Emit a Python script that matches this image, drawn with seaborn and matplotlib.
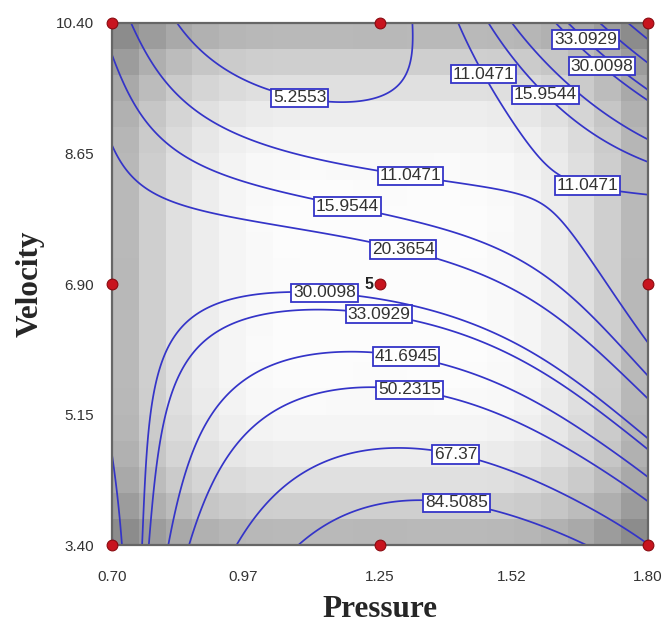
import numpy as np
import pandas as pd
import matplotlib
matplotlib.use("Agg")
import matplotlib.pyplot as plt
from matplotlib.colors import LinearSegmentedColormap
import seaborn as sns

# axis ticks
pressure_ticks = [0.70, 0.97, 1.25, 1.52, 1.80]
velocity_ticks = [3.40, 5.15, 6.90, 8.65, 10.40]

# contour levels printed on the chart
levels = [5.2553, 11.0471, 15.9544, 20.3654, 30.0098, 33.0929,
          41.6945, 50.2315, 67.37, 84.5085]
level_text = ["5.2553", "11.0471", "15.9544", "20.3654", "30.0098", "33.0929",
              "41.6945", "50.2315", "67.37", "84.5085"]

# response estimated at the tick crossings (one list per velocity row)
resp_v340 = [15.5, 69.7, 97.9, 97.2, 68.0]
resp_v515 = [21.6, 46.0, 57.8, 48.5, 23.9]
resp_v690 = [23.3, 28.5, 27.0, 19.4, 6.8]
resp_v865 = [20.8, 12.6, 9.4, 10.0, 17.8]
resp_v1040 = [14.0, 0.3, 2.2, 20.3, 57.0]

# where the contour lines cross the edges / centre column
top_pressure = [0.741, 0.833, 1.318, 1.410, 1.470, 1.517, 1.613, 1.640, 1.700]
top_level = [11.0471, 5.2553, 5.2553, 11.0471, 15.9544, 20.3654, 30.0098, 33.0929, 41.6945]

bottom_pressure = [0.720, 0.762, 0.778, 0.815, 0.856, 0.957, 1.082, 1.677, 1.798]
bottom_level = [20.3654, 30.0098, 33.0929, 41.6945, 50.2315, 67.37, 84.5085, 84.5085, 67.37]

left_velocity = [9.93, 8.79, 4.67]
left_level = [15.9544, 20.3654, 20.3654]

right_velocity = [9.86, 9.53, 9.37, 8.83, 8.54, 8.07, 6.11, 5.65, 5.34, 4.83, 4.67, 4.34, 4.00]
right_level = [41.6945, 33.0929, 30.0098, 20.3654, 15.9544, 11.0471, 11.0471,
               15.9544, 20.3654, 30.0098, 33.0929, 41.6945, 50.2315]

mid_velocity = [9.30, 8.40, 7.96, 7.42, 6.66, 6.47, 5.99, 5.55, 4.65, 3.94]
mid_level = [5.2553, 11.0471, 15.9544, 20.3654, 30.0098, 33.0929, 41.6945, 50.2315, 67.37, 84.5085]

# a few more points picked off single contour lines
extra_pressure = [0.973, 0.973, 0.973, 0.973, 0.973, 0.973, 0.894, 0.813, 0.782,
                  0.876, 0.829, 0.819, 0.938, 1.470, 1.523, 1.585, 1.600, 1.450,
                  1.520, 1.520, 1.520, 1.520, 1.408, 1.408, 1.640]
extra_velocity = [9.66, 8.80, 8.32, 7.83, 6.73, 6.40, 6.38, 5.97, 5.48,
                  6.11, 5.71, 5.48, 5.48, 9.60, 9.10, 8.33, 8.23, 8.29,
                  7.24, 6.81, 5.52, 5.08, 4.65, 3.97, 4.00]
extra_level = [5.2553, 11.0471, 15.9544, 20.3654, 30.0098, 33.0929, 30.0098, 30.0098, 30.0098,
               33.0929, 33.0929, 33.0929, 41.6945, 11.0471, 11.0471, 11.0471, 11.0471, 11.0471,
               15.9544, 20.3654, 41.6945, 50.2315, 67.37, 84.5085, 67.37]

# 3x3 design points (centre run replicated 5 times)
design_pressure = [0.70, 1.25, 1.80, 0.70, 1.25, 1.80, 0.70, 1.25, 1.80]
design_velocity = [3.40, 3.40, 3.40, 6.90, 6.90, 6.90, 10.40, 10.40, 10.40]
design_reps = [1, 1, 1, 1, 5, 1, 1, 1, 1]

BLUE = "#3434c8"
RED = "#c8141e"

sns.set_theme(style="white")
plt.rcParams["font.family"] = ["Liberation Sans", "DejaVu Sans"]

p_mid, p_half = 1.25, 0.55
v_mid, v_half = 6.90, 3.50

# --- collect all readings in one table ---
grid = pd.DataFrame([resp_v340, resp_v515, resp_v690, resp_v865, resp_v1040],
                    index=velocity_ticks, columns=pressure_ticks)
grid_long = grid.stack().reset_index()
grid_long.columns = ["velocity", "pressure", "resp"]

parts = [
    grid_long,
    pd.DataFrame({"pressure": top_pressure, "velocity": 10.40, "resp": top_level}),
    pd.DataFrame({"pressure": bottom_pressure, "velocity": 3.40, "resp": bottom_level}),
    pd.DataFrame({"pressure": 0.70, "velocity": left_velocity, "resp": left_level}),
    pd.DataFrame({"pressure": 1.80, "velocity": right_velocity, "resp": right_level}),
    pd.DataFrame({"pressure": 1.25, "velocity": mid_velocity, "resp": mid_level}),
    pd.DataFrame({"pressure": extra_pressure, "velocity": extra_velocity, "resp": extra_level}),
]
obs = pd.concat(parts, ignore_index=True)

# --- response surface: least-squares polynomial through the readings ---
u = (obs["pressure"].values - p_mid) / p_half
w = (obs["velocity"].values - v_mid) / v_half
A = np.polynomial.polynomial.polyvander2d(u, w, [4, 4])
coef = np.linalg.lstsq(A, obs["resp"].values, rcond=None)[0].reshape(5, 5)

pp = np.linspace(0.70, 1.80, 300)
vv = np.linspace(3.40, 10.40, 300)
PP, VV = np.meshgrid(pp, vv)
ZZ = np.polynomial.polynomial.polyval2d((PP - p_mid) / p_half, (VV - v_mid) / v_half, coef)

# --- background shading: std error of a quadratic model for this design ---
du, dw = [], []
for p, v, r in zip(design_pressure, design_velocity, design_reps):
    for _ in range(r):
        du.append((p - p_mid) / p_half)
        dw.append((v - v_mid) / v_half)
du, dw = np.array(du), np.array(dw)


def model_rows(a, b):
    return np.column_stack([np.ones_like(a), a, b, a * b, a ** 2, b ** 2])


X = model_rows(du, dw)
XtX_inv = np.linalg.inv(X.T @ X)
ncell = 20
pe = np.linspace(0.70, 1.80, ncell + 1)
ve = np.linspace(3.40, 10.40, ncell + 1)
pc = (pe[:-1] + pe[1:]) / 2
vc = (ve[:-1] + ve[1:]) / 2
PC, VC = np.meshgrid(pc, vc)
xr = model_rows(((PC - p_mid) / p_half).ravel(), ((VC - v_mid) / v_half).ravel())
se = np.sqrt(np.einsum("ij,jk,ik->i", xr, XtX_inv, xr)).reshape(PC.shape)

greys = LinearSegmentedColormap.from_list("se", ["#fcfcfc", "#8c8c8c"])

fig, ax = plt.subplots(figsize=(6.69, 6.30), dpi=100)
fig.subplots_adjust(left=0.1674, right=0.9686, top=0.9635, bottom=0.1349)

ax.pcolormesh(pe, ve, se, cmap=greys, shading="flat", zorder=0)

cs = ax.contour(PP, VV, ZZ, levels=levels, colors=BLUE, linewidths=1.25, zorder=2)
fmt = dict(zip(cs.levels, level_text))
# label anchor spots (layout only)
label_spots = [(1.086, 9.41), (1.314, 8.43), (1.470, 9.74), (1.675, 8.21),
               (1.184, 7.95), (1.595, 9.47), (1.301, 7.45), (1.137, 6.89),
               (1.690, 9.70), (1.250, 6.58), (1.671, 10.17), (1.305, 6.01),
               (1.312, 5.57), (1.408, 4.70), (1.408, 4.02)]
labels = ax.clabel(cs, fmt=fmt, inline=False, fontsize=12.5, colors="#333333",
                   manual=label_spots)
for t in labels:
    t.set_bbox(dict(boxstyle="square,pad=0.1", fc="white", ec=BLUE, lw=1.3))
    t.set_rotation(0)
    t.set_zorder(4)

pts = pd.DataFrame({"pressure": design_pressure, "velocity": design_velocity})
sns.scatterplot(data=pts, x="pressure", y="velocity", ax=ax, s=60, color=RED,
                edgecolor="#8a0a10", linewidth=0.8, clip_on=False, zorder=6, legend=False)
ctr = pts.iloc[4]
ax.annotate(str(design_reps[4]), (ctr["pressure"], ctr["velocity"]), xytext=(-5, 0),
            textcoords="offset points", ha="right", va="center", fontsize=11.5,
            fontweight="bold", color="#222222", zorder=7)

ax.set_xlim(0.70, 1.80)
ax.set_ylim(3.40, 10.40)
ax.set_xticks(pressure_ticks)
ax.set_xticklabels([f"{v:.2f}" for v in pressure_ticks])
ax.set_yticks(velocity_ticks)
ax.set_yticklabels([f"{v:.2f}" for v in velocity_ticks])
ax.tick_params(direction="out", length=7, width=1.3, color="#555555",
               labelsize=11, labelcolor="#333333", pad=6)
ax.tick_params(axis="x", pad=11)
for s in ax.spines.values():
    s.set_color("#666666")
    s.set_linewidth(1.6)

ax.set_xlabel("Pressure", family=["Liberation Serif"], fontsize=22.5, fontweight="bold", labelpad=8)
ax.set_ylabel("Velocity", family=["Liberation Serif"], fontsize=22.5, fontweight="bold", labelpad=8)

fig.savefig("out.png", dpi=100)
